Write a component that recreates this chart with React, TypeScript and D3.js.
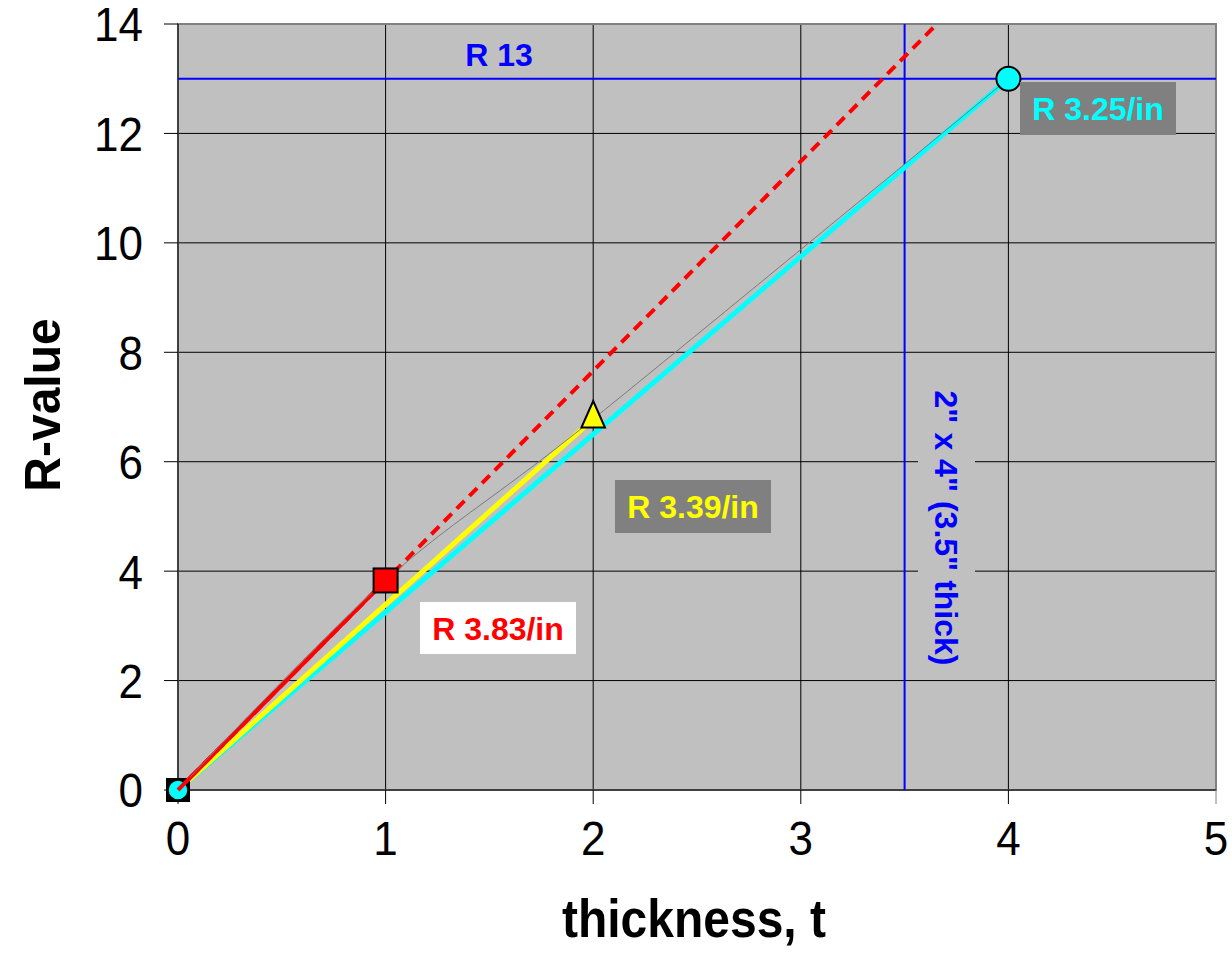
import React from "react";
import * as d3 from "d3";

// Thickness (in) vs. R-value for three insulation products
const thicknessTicks = [0, 1, 2, 3, 4, 5];
const rValueTicks = [0, 2, 4, 6, 8, 10, 12, 14];

const redSeries: [number, number][] = [[0, 0], [1, 3.83]];
const redExtension: [number, number][] = [[0, 0], [3.7, 14.17]];
const yellowSeries: [number, number][] = [[0, 0], [2, 6.78]];
const cyanSeries: [number, number][] = [[0, 0], [4, 13]];
const smoothSeries: [number, number][] = [[0, 0], [1, 3.83], [2, 6.78], [4, 13]];

const studDepth = 3.5;
const targetR = 13;

const W = 1232;
const H = 972;
const plot = { left: 178, right: 1216, top: 24, bottom: 790 };

const FONT = "'Liberation Sans', Arial, Helvetica, sans-serif";
// glyphs in this chart are drawn slightly tall
const STRETCH = 1.1;

export default function App() {
  const x = d3.scaleLinear().domain([0, 5]).range([plot.left, plot.right]);
  const y = d3.scaleLinear().domain([0, 14]).range([plot.bottom, plot.top]);

  const line = d3
    .line<[number, number]>()
    .x((d) => x(d[0]))
    .y((d) => y(d[1]));
  const smooth = d3
    .line<[number, number]>()
    .x((d) => x(d[0]))
    .y((d) => y(d[1]))
    .curve(d3.curveCardinal.tension(0));

  const pw = plot.right - plot.left;
  const ph = plot.bottom - plot.top;

  const redEnd = redSeries[redSeries.length - 1];
  const yellowEnd = yellowSeries[yellowSeries.length - 1];
  const cyanEnd = cyanSeries[cyanSeries.length - 1];

  const tri = (cx: number, cy: number, s: number) =>
    `M${cx},${cy - s * 0.95} L${cx + s * 0.62},${cy + s * 0.45} L${cx - s * 0.62},${cy + s * 0.45} Z`;

  return (
    <svg
      width={W}
      height={H}
      style={{ position: "absolute", left: 0, top: 0, background: "#fff" }}
      fontFamily={FONT}
    >
      <defs>
        <clipPath id="plot-clip">
          <rect x={plot.left} y={plot.top} width={pw} height={ph} />
        </clipPath>
      </defs>

      {/* plot area */}
      <rect x={plot.left} y={plot.top} width={pw} height={ph} fill="#c0c0c0" />

      {/* gridlines */}
      {thicknessTicks.slice(1, -1).map((t) => (
        <line key={"gx" + t} x1={x(t)} x2={x(t)} y1={plot.top} y2={plot.bottom} stroke="#000" strokeWidth={1} />
      ))}
      {rValueTicks.slice(1, -1).map((r) => (
        <line key={"gy" + r} x1={plot.left} x2={plot.right} y1={y(r)} y2={y(r)} stroke="#000" strokeWidth={1} />
      ))}

      {/* label backing behind the vertical annotation */}
      <rect x={918} y={380} width={57} height={296} fill="#c0c0c0" />

      {/* plot border */}
      <rect x={plot.left} y={plot.top} width={pw} height={ph} fill="none" stroke="#808080" strokeWidth={2} />

      {/* axes */}
      <line x1={plot.left} x2={plot.left} y1={plot.top} y2={plot.bottom} stroke="#404040" strokeWidth={2} />
      <line x1={plot.left} x2={plot.right} y1={plot.bottom} y2={plot.bottom} stroke="#404040" strokeWidth={2} />
      {rValueTicks.map((r) => (
        <line key={"ty" + r} x1={plot.left - 14} x2={plot.left} y1={y(r)} y2={y(r)} stroke="#000" strokeWidth={1} />
      ))}
      {thicknessTicks.map((t) => (
        <line key={"tx" + t} x1={x(t)} x2={x(t)} y1={plot.bottom} y2={plot.bottom + 14} stroke={t === 5 ? "#808080" : "#000"} strokeWidth={1} />
      ))}
      {rValueTicks.map((r) => (
        <text
          key={"ly" + r}
          transform={`translate(143,${y(r)}) scale(1,${STRETCH})`}
          dy="0.36em"
          textAnchor="end"
          fontSize={44}
        >
          {r}
        </text>
      ))}
      {thicknessTicks.map((t) => (
        <text
          key={"lx" + t}
          transform={`translate(${x(t)},838) scale(1,${STRETCH})`}
          dy="0.36em"
          textAnchor="middle"
          fontSize={44}
        >
          {t}
        </text>
      ))}

      <text
        transform={`translate(694,937) scale(1,${STRETCH})`}
        textAnchor="middle"
        fontSize={48}
        fontWeight="bold"
      >
        thickness, t
      </text>
      <text
        transform={`translate(60,405) rotate(-90) scale(1,1.06)`}
        textAnchor="middle"
        fontSize={48}
        fontWeight="bold"
      >
        R-value
      </text>

      <g clipPath="url(#plot-clip)">
        {/* reference lines: R 13 and 2x4 stud depth */}
        <line x1={plot.left} x2={plot.right} y1={y(targetR)} y2={y(targetR)} stroke="#0000ff" strokeWidth={2} />
        <line x1={x(studDepth)} x2={x(studDepth)} y1={plot.top} y2={plot.bottom} stroke="#0000ff" strokeWidth={2} />

        {/* series */}
        <path d={line(cyanSeries)!} fill="none" stroke="#00ffff" strokeWidth={5} />
        <path d={line(yellowSeries)!} fill="none" stroke="#ffff00" strokeWidth={5} />
        <path d={line(redSeries)!} fill="none" stroke="#ff0000" strokeWidth={4} />
        <path d={line(redExtension)!} fill="none" stroke="#ff0000" strokeWidth={4} strokeDasharray="11,7" />
        <path d={smooth(smoothSeries)!} fill="none" stroke="#7a7a7a" strokeWidth={1} />
      </g>

      {/* markers */}
      <rect x={x(0) - 12} y={y(0) - 12} width={24} height={24} fill="#000" />
      <circle cx={x(0)} cy={y(0)} r={10} fill="#00ffff" stroke="#000" strokeWidth={1.5} />
      <path d={line([[0, 0], [0.06, 0.23]])!} stroke="#ff0000" strokeWidth={4} />
      <rect x={x(redEnd[0]) - 12} y={y(redEnd[1]) - 12} width={24} height={24} fill="#ff0000" stroke="#000" strokeWidth={2} />
      <path d={tri(x(yellowEnd[0]), y(yellowEnd[1]), 19)} fill="#ffff00" stroke="#000" strokeWidth={2} />
      <circle cx={x(cyanEnd[0])} cy={y(cyanEnd[1])} r={12} fill="#00ffff" stroke="#000" strokeWidth={2} />

      {/* annotations */}
      <text x={499} y={66} textAnchor="middle" fontSize={32} fontWeight="bold" fill="#0000ff">
        R 13
      </text>

      <rect x={1020} y={82} width={156} height={53} fill="#808080" />
      <text x={1098} y={120} textAnchor="middle" fontSize={32} fontWeight="bold" fill="#00ffff">
        R 3.25/in
      </text>

      <rect x={615} y={480} width={156} height={53} fill="#808080" />
      <text x={693} y={518} textAnchor="middle" fontSize={32} fontWeight="bold" fill="#ffff00">
        R 3.39/in
      </text>

      <rect x={420} y={602} width={156} height={52} fill="#ffffff" />
      <text x={498} y={640} textAnchor="middle" fontSize={32} fontWeight="bold" fill="#ff0000">
        R 3.83/in
      </text>

      <text
        transform={`translate(935,528) rotate(90)`}
        textAnchor="middle"
        fontSize={32}
        fontWeight="bold"
        fill="#0000ff"
      >
        2" x 4" (3.5" thick)
      </text>
    </svg>
  );
}
